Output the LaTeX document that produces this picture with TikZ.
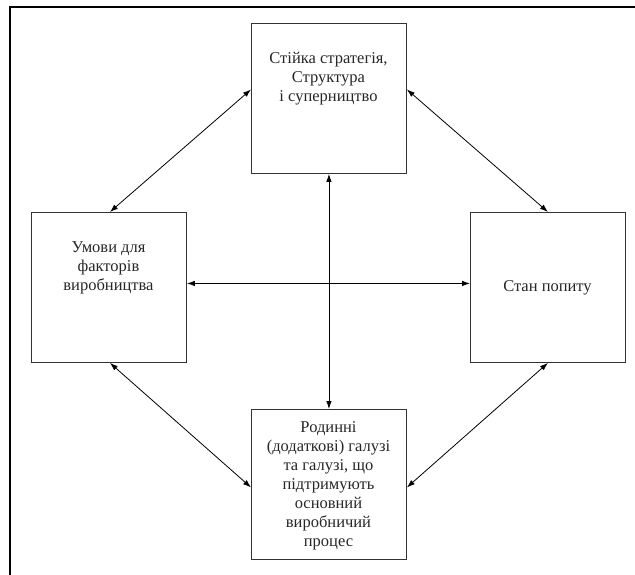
\documentclass[tikz,border=0pt]{standalone}
\usepackage{fontspec}
\setmainfont{Liberation Serif}
\usetikzlibrary{arrows.meta}
\begin{document}
\begin{tikzpicture}[x=1pt,y=-1pt,
  box/.style={draw=black!80, line width=0.9pt, minimum width=155pt, minimum height=150pt, inner sep=0pt, anchor=north west},
  lbl/.style={align=center, inner sep=0pt, font=\fontsize{16.5}{19}\selectfont, text=black!85},
  link/.style={line width=0.8pt, {Latex[length=8pt,width=5.5pt]}-{Latex[length=8pt,width=5.5pt]}}]
\useasboundingbox (0,0) rectangle (635,575);
\draw[line width=1.8pt] (10,575) -- (10,7) coordinate (corner) -- (635,7);
\node[box] (top) at (251,23) {};
\node[box] (left) at (31,212) {};
\node[box] (right) at (470,212) {};
\node[box] (bot) at (251,409) {};
\node[lbl] (ttop) at (328.5,79) {Стійка стратегія,\\Структура\\і суперництво};
\node[lbl] (tleft) at (108.5,268) {Умови для\\факторів\\виробництва};
\node[lbl] (tright) at (547.5,288) {Стан попиту};
\node[lbl] (tbot) at (328.5,486) {Родинні\\(додаткові) галузі\\та галузі, що\\підтримують\\основний\\виробничий\\процес};
\draw[link] ([xshift=1pt]left.north) -- ([yshift=9pt]top.west);
\draw[link] ([yshift=9pt]top.east) -- (right.north);
\draw[link] ([xshift=1pt]left.south) -- ([yshift=-3pt]bot.west);
\draw[link] (right.south) -- ([yshift=-3pt]bot.east);
\draw[link] ([yshift=4pt]left.east) -- ([yshift=4pt]right.west);
\draw[link] (top.south) -- (bot.north);
\end{tikzpicture}
\end{document}
